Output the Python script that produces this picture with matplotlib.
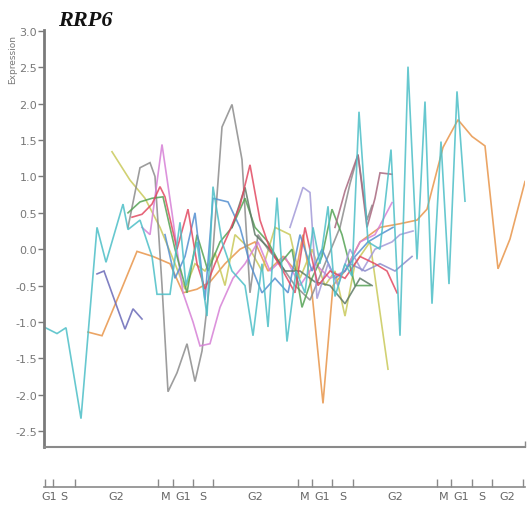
import matplotlib
matplotlib.use("Agg")
import matplotlib.pyplot as plt
import matplotlib.transforms as mtrans

# ---------------- data (time units, expression values) ----------------
cyan_t = [44, 57, 66, 81, 97, 106, 123, 128, 140, 152, 157, 170, 180, 186, 197, 207, 213, 222, 232, 245,
          253, 262, 268, 277, 287, 296, 305, 313, 320, 328, 335, 345, 352, 359, 368, 380, 391, 400, 408,
          417, 425, 432, 441, 449, 457, 465]
cyan_v = [-1.07, -1.16, -1.08, -2.33, 0.30, -0.18, 0.62, 0.27, 0.40, -0.10, -0.62, -0.62, 0.37, -0.50, 0.10,
          -0.92, 0.86, 0.10, -0.30, -0.50, -1.19, -0.20, -1.07, 0.71, -1.27, -0.30, -0.60, 0.30, -0.20, 0.59,
          -0.65, -0.20, -0.37, 1.89, 0.10, 0.00, 1.37, -1.19, 2.51, -0.14, 2.03, -0.75, 1.48, -0.48, 2.17, 0.66]

orange_t = [88, 102, 120, 137, 153, 170, 183, 197, 210, 225, 240, 255, 268, 283, 296, 303, 312, 323, 333,
            345, 360, 380, 400, 417, 427, 443, 458, 472, 485, 498, 510, 525]
orange_v = [-1.14, -1.19, -0.60, -0.03, -0.10, -0.20, -0.60, -0.55, -0.45, -0.20, 0.00, 0.10, -0.30, -0.10,
            -0.30, 0.20, -0.60, -2.12, -0.50, -0.30, 0.10, 0.30, 0.35, 0.40, 0.55, 1.40, 1.78, 1.55, 1.42,
            -0.27, 0.14, 0.93]

olive_t = [112, 130, 145, 160, 175, 185, 195, 205, 215, 225, 235, 250, 262, 275, 290, 300, 312, 325, 335,
           345, 355, 370, 388]
olive_v = [1.34, 0.95, 0.70, 0.30, -0.20, -0.55, -0.20, -0.30, -0.05, -0.50, 0.20, 0.00, -0.30, 0.30, 0.20,
           -0.40, 0.00, -0.50, -0.30, -0.92, -0.20, 0.10, -1.65]

violet_t = [97, 104, 125, 133, 142]
violet_v = [-0.34, -0.30, -1.10, -0.82, -0.96]

gray_t = [128, 140, 150, 155, 162, 168, 177, 187, 195, 202, 212, 222, 232, 242, 250, 258, 268, 280, 295,
          310, 325, 340, 350, 358, 367, 372]
gray_v = [0.30, 1.12, 1.19, 1.00, -0.50, -1.96, -1.70, -1.30, -1.82, -1.40, -0.20, 1.68, 1.99, 1.23, -0.60,
          0.20, 0.00, -0.20, -0.50, -0.70, -0.20, 0.30, 0.90, 1.30, 0.40, 0.60]

pink_t = [142, 150, 162, 172, 183, 193, 200, 210, 220, 233, 245, 258, 270, 285, 300, 315, 330, 345, 360,
          375, 392]
pink_v = [0.30, 0.20, 1.44, 0.50, -0.60, -1.00, -1.33, -1.30, -0.80, -0.40, -0.20, 0.10, -0.30, -0.10,
          -0.50, -0.20, -0.40, -0.30, 0.10, 0.20, 0.64]

red_t = [132, 142, 152, 160, 165, 177, 188, 197, 205, 215, 228, 240, 250, 260, 270, 283, 295, 305, 318,
         330, 345, 360, 375, 387, 397]
red_v = [0.44, 0.48, 0.62, 0.86, 0.72, 0.00, 0.55, -0.20, -0.55, -0.20, 0.20, 0.60, 1.16, 0.40, 0.00,
         -0.30, -0.60, 0.30, -0.50, -0.30, -0.40, -0.10, -0.20, -0.30, -0.60]

green_t = [128, 140, 152, 163, 175, 187, 197, 208, 220, 232, 245, 255, 268, 280, 292, 302, 312, 322, 332,
           342, 355, 370]
green_v = [0.50, 0.65, 0.70, 0.72, 0.00, -0.60, 0.20, -0.30, 0.10, 0.30, 0.70, 0.30, 0.10, -0.20, 0.00,
           -0.80, -0.40, -0.10, 0.55, 0.20, -0.50, -0.50]

blue_t = [165, 175, 185, 195, 205, 213, 228, 240, 250, 262, 275, 288, 300, 312, 322, 335, 345, 355, 368,
          380, 393]
blue_v = [0.20, -0.40, -0.10, 0.50, -0.70, 0.70, 0.65, 0.30, -0.20, -0.60, -0.40, -0.60, 0.20, -0.30, 0.00,
          -0.40, -0.30, -0.10, 0.10, 0.20, 0.30]

slate_t = [232, 245, 255, 270, 285, 300, 315, 330, 345, 360, 372]
slate_v = [0.30, 0.85, 0.20, 0.00, -0.30, -0.30, -0.45, -0.50, -0.75, -0.40, -0.50]

lavender_t = [290, 303, 310, 317, 328, 338, 350, 362, 375, 392, 400, 413]
lavender_v = [0.30, 0.85, 0.78, -0.68, -0.20, -0.50, 0.00, -0.30, 0.00, 0.10, 0.20, 0.25]

mauve_t = [335, 345, 358, 367, 375, 380, 392]
mauve_v = [0.30, 0.80, 1.30, 0.30, 0.70, 1.05, 1.03]

peri_t = [350, 365, 380, 395, 412]
peri_v = [-0.20, -0.30, -0.20, -0.30, -0.10]

phase_bounds = [45, 53, 75, 158, 173, 193, 213, 298, 312, 332, 353, 437, 451, 472, 492, 523]
phase_names = ["G1", "S", "G2", "M", "G1", "S", "G2", "M", "G1", "S", "G2", "M", "G1", "S", "G2"]

y_ticks = [3.0, 2.5, 2.0, 1.5, 1.0, 0.5, 0.0, -0.5, -1.0, -1.5, -2.0, -2.5]

series = [
    (orange_t, orange_v, "#e8954a"),
    (olive_t, olive_v, "#c9c95a"),
    (violet_t, violet_v, "#6a6ab8"),
    (gray_t, gray_v, "#8c8c8c"),
    (pink_t, pink_v, "#d680d6"),
    (green_t, green_v, "#55a355"),
    (blue_t, blue_v, "#5590d0"),
    (slate_t, slate_v, "#5f7a66"),
    (lavender_t, lavender_v, "#a39ad8"),
    (mauve_t, mauve_v, "#a8687f"),
    (peri_t, peri_v, "#8c8ccc"),
    (red_t, red_v, "#e24a62"),
    (cyan_t, cyan_v, "#4cbfc7"),
]

# ---------------- figure ----------------
W, H = 527, 506
fig = plt.figure(figsize=(W / 100, H / 100), dpi=100)
fig.patch.set_facecolor("white")

x0, x1 = 44, 525
ytop, ybot = 31, 448
ax = fig.add_axes([x0 / W, 1 - ybot / H, (x1 - x0) / W, (ybot - ytop) / H])
ax.set_xlim(x0, x1)
ax.set_ylim(-2.72, 3.014)

for t, v, c in series:
    ax.plot(t, v, color=c, lw=1.2, alpha=0.85, solid_joinstyle="miter")

for s in ["top", "right"]:
    ax.spines[s].set_visible(False)
ax.spines["left"].set_color("#7a7a7a")
ax.spines["left"].set_linewidth(2.0)
ax.spines["bottom"].set_color("#8a8a8a")
ax.spines["bottom"].set_linewidth(1.5)
ax.set_yticks(y_ticks)
ax.set_yticklabels([f"{v:.1f}" for v in y_ticks])
ax.tick_params(axis="y", direction="out", length=4, width=1, color="#7a7a7a",
               labelsize=8, labelcolor="#777777", pad=1)
ax.set_xticks([x1])
ax.set_xticklabels([])
ax.tick_params(axis="x", direction="in", length=4, width=1, color="#8a8a8a")

fig.text(13 / W, 1 - 59 / H, "Expression", rotation=90, ha="center", va="center",
         fontsize=6.5, color="#777777")
fig.text(58 / W, 1 - 21 / H, "RRP6", ha="left", va="center", fontsize=16,
         family="Liberation Serif", weight="bold", style="italic", color="#111111")

# ---------------- phase axis ----------------
py = 488
ax2 = fig.add_axes([x0 / W, 1 - py / H, (x1 - x0) / W, 0.0001])
ax2.set_xlim(x0, x1)
ax2.set_ylim(0, 1)
for s in ["top", "right", "left"]:
    ax2.spines[s].set_visible(False)
ax2.spines["bottom"].set_color("#8a8a8a")
ax2.spines["bottom"].set_linewidth(1.2)
ax2.set_yticks([])
ax2.set_xticks(phase_bounds)
ax2.set_xticklabels([])
ax2.tick_params(axis="x", direction="in", length=6, width=1, color="#8a8a8a")
label_tr = mtrans.blended_transform_factory(
    ax2.transData, mtrans.offset_copy(ax2.transAxes, fig=fig, y=-9, units="dots"))
for a, b, name in zip(phase_bounds[:-1], phase_bounds[1:], phase_names):
    ax2.text((a + b) / 2, 0, name, ha="center", va="center",
             fontsize=8, color="#666666", transform=label_tr)

fig.savefig("out.png", dpi=100, facecolor="white")
